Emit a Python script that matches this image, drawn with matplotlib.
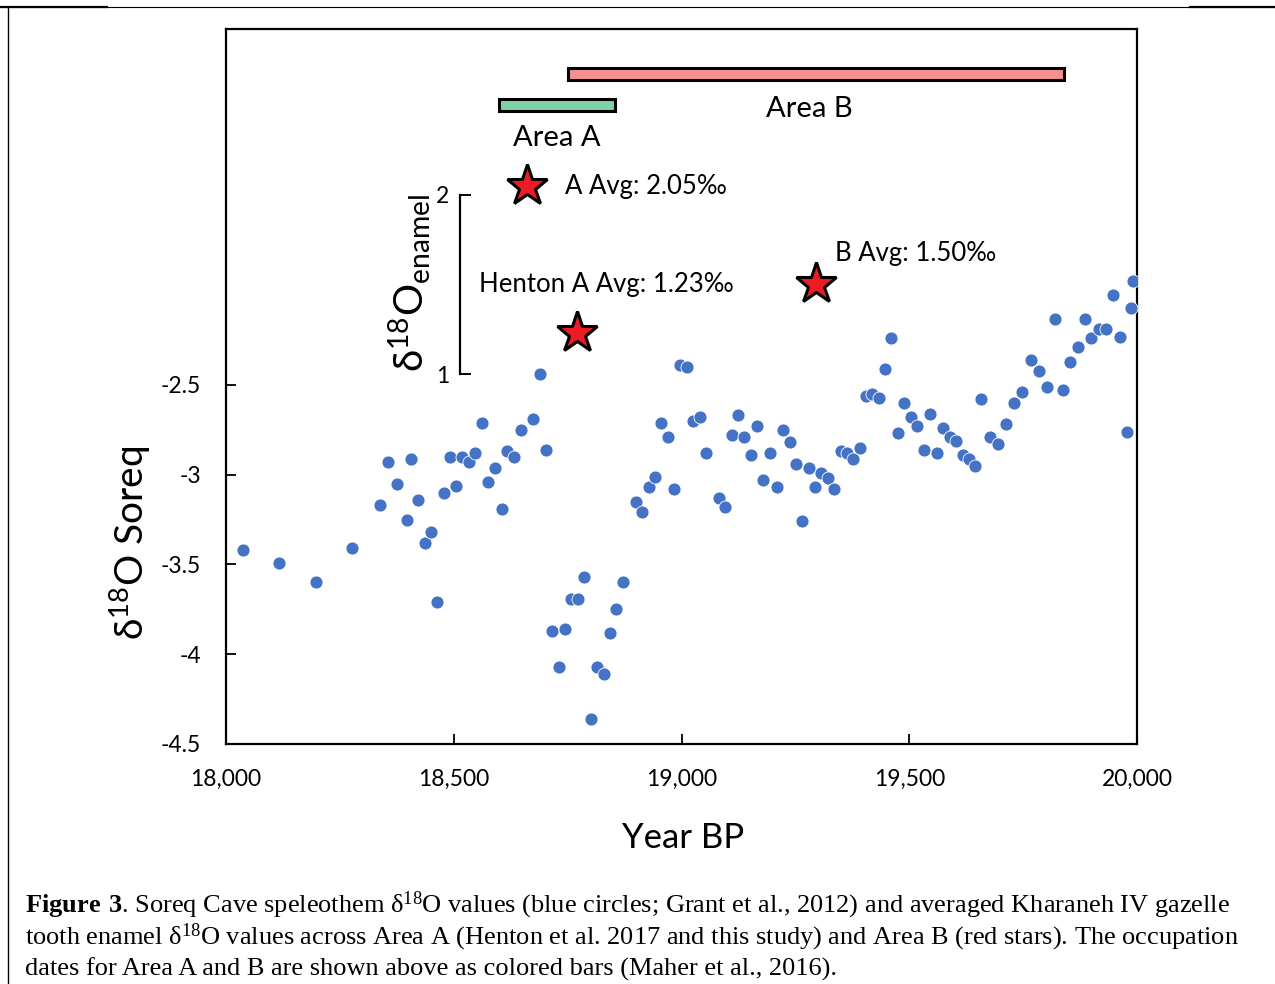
import matplotlib
matplotlib.use("Agg")
import matplotlib.pyplot as plt
from matplotlib.lines import Line2D

plt.rcParams['font.family'] = ['Lato', 'DejaVu Sans']
plt.rcParams['mathtext.fontset'] = 'custom'
plt.rcParams['mathtext.bf'] = 'Liberation Serif:bold'
plt.rcParams['mathtext.rm'] = 'Liberation Serif'

# Soreq Cave speleothem record (Year BP, d18O)
soreq_year = [18037, 18117, 18198, 18277, 18337, 18356, 18375, 18398, 18407, 18422,
              18436, 18450, 18464, 18478, 18491, 18505, 18519, 18533, 18547, 18563,
              18576, 18591, 18606, 18618, 18632, 18647, 18674, 18689, 18702, 18716,
              18731, 18745, 18758, 18773, 18787, 18801, 18815, 18829, 18842, 18856,
              18872, 18900, 18914, 18928, 18942, 18956, 18970, 18984, 18997, 19013,
              19026, 19041, 19054, 19082, 19096, 19110, 19123, 19138, 19152, 19165,
              19180, 19195, 19209, 19223, 19238, 19251, 19265, 19279, 19294, 19307,
              19321, 19335, 19350, 19363, 19377, 19391, 19405, 19419, 19434, 19447,
              19461, 19475, 19489, 19504, 19518, 19532, 19546, 19560, 19575, 19589,
              19603, 19617, 19631, 19644, 19658, 19677, 19694, 19712, 19730, 19748,
              19767, 19784, 19802, 19821, 19838, 19853, 19870, 19885, 19898, 19916,
              19932, 19948, 19963, 19978, 19986, 19992]
soreq_d18o = [-3.42, -3.49, -3.60, -3.41, -3.17, -2.93, -3.05, -3.25, -2.91, -3.14,
              -3.38, -3.32, -3.71, -3.10, -2.90, -3.06, -2.90, -2.93, -2.88, -2.71,
              -3.04, -2.96, -3.19, -2.87, -2.90, -2.75, -2.69, -2.44, -2.86, -3.87,
              -4.07, -3.86, -3.69, -3.69, -3.57, -4.36, -4.07, -4.11, -3.88, -3.75,
              -3.60, -3.15, -3.21, -3.07, -3.01, -2.71, -2.79, -3.08, -2.39, -2.40,
              -2.70, -2.68, -2.88, -3.13, -3.18, -2.78, -2.67, -2.79, -2.89, -2.73,
              -3.03, -2.88, -3.07, -2.75, -2.82, -2.94, -3.26, -2.96, -3.07, -2.99,
              -3.02, -3.08, -2.87, -2.88, -2.91, -2.85, -2.56, -2.55, -2.57, -2.41,
              -2.24, -2.77, -2.60, -2.68, -2.73, -2.86, -2.66, -2.88, -2.74, -2.79,
              -2.81, -2.89, -2.91, -2.95, -2.58, -2.79, -2.83, -2.72, -2.60, -2.54,
              -2.36, -2.42, -2.51, -2.13, -2.53, -2.37, -2.29, -2.13, -2.24, -2.19,
              -2.19, -2.00, -2.23, -2.76, -2.07, -1.92]

# enamel averages (red stars)
enamel_labels = ["A Avg: 2.05‰", "Henton A Avg: 1.23‰", "B Avg: 1.50‰"]
enamel_year = [18661, 18771, 19295]
enamel_d18o = [2.05, 1.23, 1.50]

# occupation dates
areas = ["Area A", "Area B"]
area_start = [18600, 18750]
area_end = [18854, 19840]
area_colors = ["#7dd3a5", "#f4908f"]

x_ticks = [18000, 18500, 19000, 19500, 20000]
x_ticklabels = ["18,000", "18,500", "19,000", "19,500", "20,000"]
y_ticks = [-2.5, -3, -3.5, -4, -4.5]
y_ticklabels = ["-2.5", "-3", "-3.5", "-4", "-4.5"]

W, H = 1275, 984
fig = plt.figure(figsize=(W / 100, H / 100), dpi=100)
ax = fig.add_axes([226 / W, 240 / H, 911 / W, 715 / H])
ax.set_xlim(18000, 20000)
ax.set_ylim(-4.5, -0.517)

ax.scatter(soreq_year, soreq_d18o, s=88, color="#4472c4", edgecolor="white",
           linewidth=0.6, zorder=3)

# bars for occupation
bar_y = [-0.939, -0.767]
ax.barh(bar_y, [e - s for s, e in zip(area_start, area_end)], left=area_start,
        height=0.066, color=area_colors, edgecolor="black", linewidth=2.2)
label_pos = [(18727, -1.122), (19280, -0.961)]
for name, (lx, ly) in zip(areas, label_pos):
    ax.text(lx, ly, name, ha="center", va="center", fontsize=21)

ax.set_xticks(x_ticks)
ax.set_xticklabels(x_ticklabels)
ax.set_yticks(y_ticks)
ax.set_yticklabels(y_ticklabels)
for s in ax.spines.values():
    s.set_linewidth(1.6)
ax.tick_params(axis="both", direction="in", length=7, width=1.3, labelsize=16.5)
ax.tick_params(axis="y", pad=18)
ax.tick_params(axis="x", pad=18)

ax.set_xlabel("Year BP", fontsize=25)
ax.xaxis.set_label_coords(0.5016, -0.1315)
ax.xaxis.label.set_va("center")
ax.set_ylabel("δ$\\mathregular{^{18}}$O Soreq", fontsize=28)
ax.yaxis.set_label_coords(-0.1054, 0.281)
ax.yaxis.label.set_va("center")

# second scale for enamel, same units per pixel
OFF = 3.439
ax2 = ax.twinx()
ax2.set_ylim(-4.5 + OFF, -0.517 + OFF)
for s in ["top", "right", "bottom"]:
    ax2.spines[s].set_visible(False)
ax2.spines["left"].set_visible(True)
ax2.spines["left"].set_position(("data", 18514))
ax2.spines["left"].set_bounds(1, 2)
ax2.spines["left"].set_linewidth(1.6)
ax2.yaxis.tick_left()
ax2.set_yticks([1, 2])
ax2.set_yticklabels(["1", "2"])
ax2.tick_params(axis="y", direction="in", length=8, width=1.4, labelsize=16.5, pad=8)
ax2.set_ylabel("δ$\\mathregular{^{18}}$O$\\mathregular{_{enamel}}$", fontsize=29)
ax2.yaxis.set_label_position("left")
ax2.yaxis.set_label_coords(0.202, 0.645)
ax2.yaxis.label.set_va("center")

ax2.plot(enamel_year, enamel_d18o, linestyle="none", marker="*", markersize=31,
         markerfacecolor="#ed1c24", markeredgecolor="black", markeredgewidth=2.2,
         zorder=5)
offsets = [(27, -1), (-71, 35), (14, 22)]
for lab, xv, yv, off in zip(enamel_labels, enamel_year, enamel_d18o, offsets):
    ax2.annotate(lab, (xv, yv), xytext=off, textcoords="offset points",
                 ha="left", va="center", fontsize=18.5)

# page frame
fig.add_artist(Line2D([0, 1], [1 - 7 / H, 1 - 7 / H], color="black", lw=0.8))
fig.add_artist(Line2D([0, 107 / W], [1 - 7 / H, 1 - 7 / H], color="black", lw=1.6))
fig.add_artist(Line2D([1190 / W, 1], [1 - 7 / H, 1 - 7 / H], color="black", lw=1.6))
fig.add_artist(Line2D([8 / W, 8 / W], [0, 1 - 7 / H], color="black", lw=1.0))

cap = ["$\\mathbf{Figure\\ 3}$. Soreq Cave speleothem δ$\\mathregular{^{18}}$O values "
       "(blue circles; Grant et al., 2012) and averaged Kharaneh IV gazelle",
       "tooth enamel δ$\\mathregular{^{18}}$O values across Area A (Henton et al. 2017 "
       "and this study) and Area B (red stars). The occupation",
       "dates for Area A and B are shown above as colored bars (Maher et al., 2016)."]
for i, line in enumerate(cap):
    fig.text(25 / W, 1 - (905 + 32 * i) / H, line, ha="left", va="center",
             fontsize=19, family=["Liberation Serif", "DejaVu Serif"])

fig.savefig("out.png", dpi=100)
